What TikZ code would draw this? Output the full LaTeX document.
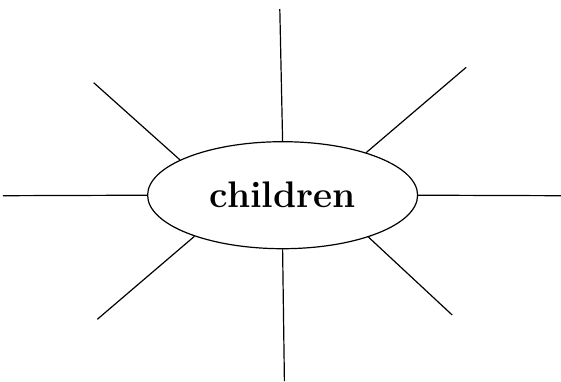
\documentclass[tikz,border=0pt]{standalone}
\usepackage{fontspec}
\usepackage{tikz}
\usetikzlibrary{shapes.geometric, positioning}

\begin{document}
\begin{tikzpicture}[
        x=1pt, y=-1pt,
        centro/.style={ellipse, draw=black, line width=1.2pt, fill=white, minimum width=270pt, minimum height=107pt, inner sep=0pt, font=\fontsize{37}{40}\selectfont\bfseries},
        raio/.style={line width=1.2pt, black}
    ]
        \useasboundingbox (0,0) rectangle (561,381);

        % Nó central
        \node[centro] (kids) at (282.6,195.2) {children};

        % Pontas livres
        \coordinate (topo) at (279.8,9);
        \coordinate (sup dir) at (466.2,67.3);
        \coordinate (dir) at (561,195.7);
        \coordinate (inf dir) at (452.2,315);
        \coordinate (base) at (284.4,381);
        \coordinate (inf esq) at (97.3,319.3);
        \coordinate (esq) at (2.9,195.7);
        \coordinate (sup esq) at (93.7,82.7);

        % Raios
        \draw[raio] (kids.north) -- (topo);
        \draw[raio] (kids.27.6) -- (sup dir);
        \draw[raio] (kids.east) -- (dir);
        \draw[raio] (kids.-26.8) -- (inf dir);
        \draw[raio] (kids.south) -- (base);
        \draw[raio] (kids.205.2) -- (inf esq);
        \draw[raio] (kids.west) -- (esq);
        \draw[raio] (kids.161.6) -- (sup esq);
    \end{tikzpicture}
\end{document}
